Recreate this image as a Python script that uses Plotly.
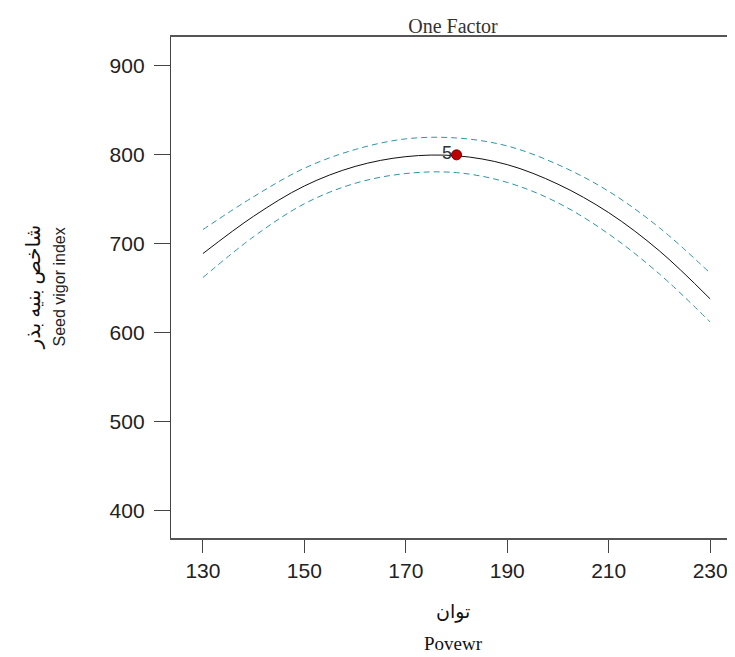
import plotly.graph_objects as go

# Data
power = [130, 140, 150, 160, 170, 180, 190, 200, 210, 220, 230]
vigor_mean = [689, 731, 765, 787, 798, 799, 789, 767, 735, 692, 638]
vigor_upper = [716, 753, 785, 806, 818, 819, 810, 789, 759, 718, 667]
vigor_lower = [662, 708, 745, 768, 779, 780, 769, 746, 711, 666, 612]
design_x = [180]
design_y = [800]
design_label = ["5"]
x_ticks = [130, 150, 170, 190, 210, 230]
y_ticks = [400, 500, 600, 700, 800, 900]

# the page body adds an 8px offset; figure sized/margined to compensate
W, H = 727, 649
ML, MT, MB = 163, 29, 119
PW, PH = W - ML, H - MT - MB

fig = go.Figure()
dash_color = "#2f95a3"
fig.add_trace(go.Scatter(x=power, y=vigor_upper, mode="lines", line=dict(color=dash_color, width=1, dash="6px,4px", shape="spline"), hoverinfo="skip"))
fig.add_trace(go.Scatter(x=power, y=vigor_lower, mode="lines", line=dict(color=dash_color, width=1, dash="6px,4px", shape="spline"), hoverinfo="skip"))
fig.add_trace(go.Scatter(x=power, y=vigor_mean, mode="lines", line=dict(color="#111111", width=1, shape="spline")))
fig.add_trace(go.Scatter(x=design_x, y=design_y, mode="markers",
                         marker=dict(color="#c00000", size=10, line=dict(color="#7a0000", width=1))))
for xv, yv, lab in zip(design_x, design_y, design_label):
    fig.add_annotation(x=xv, y=yv, text=lab, showarrow=False, xanchor="right", xshift=-3, yshift=2,
                       font=dict(family="Liberation Sans, Arial", size=18, color="#333333"))

fig.update_layout(
    width=W, height=H,
    margin=dict(l=ML, r=0, t=MT, b=MB),
    paper_bgcolor="white", plot_bgcolor="white",
    showlegend=False,
    title=dict(text="One Factor", x=445 / W, xanchor="center", y=1 - 18 / H, yanchor="middle",
               font=dict(family="Liberation Serif, Times New Roman", size=20, color="#333333")),
)
fig.update_xaxes(range=[123.7, 234.9], tickvals=x_ticks, ticks="outside", ticklen=13, tickwidth=1, tickcolor="#444",
                 showline=True, linecolor="#555", linewidth=1.5, mirror=True, showgrid=False, zeroline=False,
                 tickfont=dict(family="Liberation Sans, Arial", size=21, color="#222222"))
fig.update_yaxes(range=[369, 932.6], tickvals=y_ticks, ticks="outside", ticklen=16, tickwidth=1, tickcolor="#444",
                 ticklabelstandoff=5,
                 showline=True, linecolor="#444", linewidth=1.3, showgrid=False, zeroline=False,
                 tickfont=dict(family="Liberation Sans, Arial", size=21, color="#222222"))

fig.add_annotation(text="شاخص بنیه بذر", xref="paper", yref="paper", x=(25 - ML) / PW, y=0.5,
                   textangle=-90, showarrow=False, xanchor="center", yanchor="middle",
                   font=dict(family="Liberation Serif, DejaVu Serif, DejaVu Sans", size=20, color="#111111"))
fig.add_annotation(text="Seed vigor index", xref="paper", yref="paper", x=(51 - ML) / PW, y=0.5,
                   textangle=-90, showarrow=False, xanchor="center", yanchor="middle",
                   font=dict(family="Liberation Sans, Arial", size=16, color="#222222"))
fig.add_annotation(text="توان", xref="paper", yref="paper", x=0.5, y=-(612 - 538) / PH,
                   showarrow=False, xanchor="center", yanchor="middle",
                   font=dict(family="Liberation Serif, DejaVu Serif, DejaVu Sans", size=19, color="#111111"))
fig.add_annotation(text="Povewr", xref="paper", yref="paper", x=0.5, y=-(643 - 538) / PH,
                   showarrow=False, xanchor="center", yanchor="middle",
                   font=dict(family="Liberation Serif, Times New Roman", size=19, color="#111111"))

fig.write_html("out.html")
